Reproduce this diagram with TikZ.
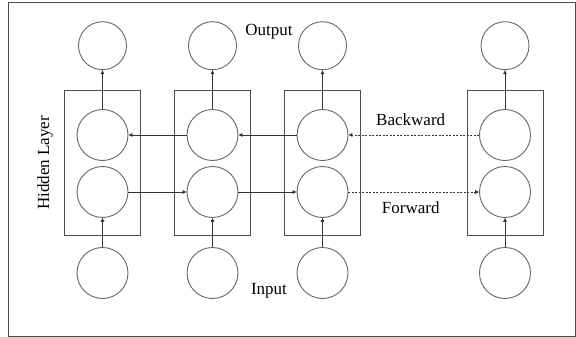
\documentclass[tikz,border=0pt]{standalone}
\usepackage{fontspec}
\setmainfont{Liberation Serif}
\usetikzlibrary{arrows.meta}
\begin{document}
\begin{tikzpicture}[x=1pt,y=-1pt,
  neuron/.style={circle,draw=black!60,line width=0.9pt,minimum size=51pt,inner sep=0pt},
  outneuron/.style={neuron,minimum size=48pt},
  layerbox/.style={draw=black!70,line width=0.9pt,minimum width=76pt,minimum height=144.5pt,inner sep=0pt},
  conn/.style={draw=black!80,line width=0.7pt,-{Triangle[length=4pt,width=3.5pt]}},
  dconn/.style={conn,dash pattern=on 2pt off 1.5pt},
  lbl/.style={font=\fontsize{17}{20}\selectfont,inner sep=0pt}]
\useasboundingbox (0,0) rectangle (576,337);
\draw[draw=black!70,line width=1pt] (8,3) rectangle (575.5,336);
\foreach \i/\x in {1/102.5,2/212.5,3/322.5,4/505}{
  \node[layerbox] (b\i) at (\x,162.75) {};
  \node[outneuron] (o\i) at (\x,45.7) {};
  \node[neuron] (u\i) at (\x,135) {};
  \node[neuron] (l\i) at (\x,192) {};
  \node[neuron] (n\i) at (\x,273) {};
  \draw[conn] (n\i) -- (l\i);
  \draw[conn] (u\i) -- (o\i);
}
\draw[conn] (l1) -- (l2);
\draw[conn] (l2) -- (l3);
\draw[dconn] (l3) -- (l4);
\draw[conn] (u2) -- (u1);
\draw[conn] (u3) -- (u2);
\draw[dconn] (u4) -- (u3);
\node[lbl] (tout) at (269,32) {Output};
\node[lbl] (tin) at (269,290.5) {Input};
\node[lbl] (tback) at (410.7,120) {Backward};
\node[lbl] (tfwd) at (410.7,207.7) {Forward};
\node[lbl,rotate=90] (thid) at (45,163) {Hidden Layer};
\end{tikzpicture}
\end{document}
